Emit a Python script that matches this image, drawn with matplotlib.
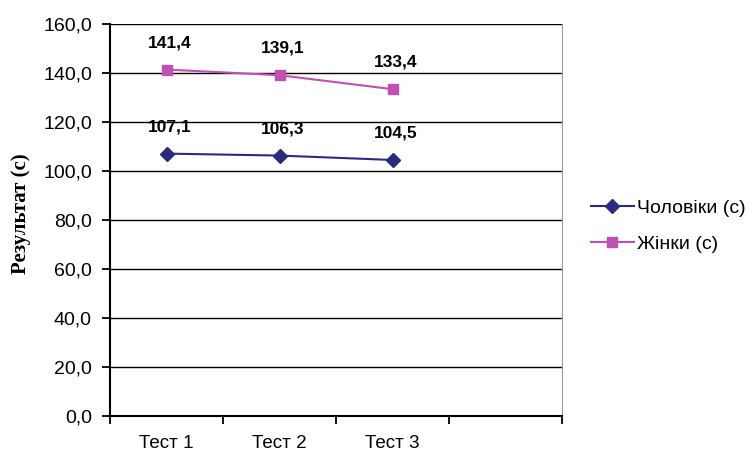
import numpy as np
import matplotlib
matplotlib.use("Agg")
from matplotlib import pyplot as plt
from matplotlib.ticker import FixedLocator, NullFormatter

tests = ["Тест 1", "Тест 2", "Тест 3"]
men = [107.1, 106.3, 104.5]
women = [141.4, 139.1, 133.4]

plt.rcParams['font.family'] = ['Liberation Sans', 'DejaVu Sans']

fig = plt.figure(figsize=(7.53, 4.53), dpi=100)
ax = fig.add_axes([110 / 753, 37 / 453, 452 / 753, 392 / 453])

x = np.arange(len(tests))
ax.plot(x, men, color="#2A2A7E", marker="D", markersize=7, linewidth=1.5,
        label="Чоловіки (с)")
ax.plot(x, women, color="#C050B2", marker="s", markersize=7, linewidth=1.5,
        label="Жінки (с)")

# value labels above the points
for series in (men, women):
    for xi, v in zip(x, series):
        ax.text(xi + 0.03, v + 11, f"{v:.1f}".replace(".", ","), ha="center",
                va="center", fontsize=12.5, fontweight="bold")

ax.set_xlim(-0.5, 3.5)
ax.set_ylim(0, 160)
yt = np.arange(0, 161, 20)
ax.set_yticks(yt)
ax.set_yticklabels([f"{t:.1f}".replace(".", ",") for t in yt], fontsize=14)
ax.yaxis.grid(True, color="black", linewidth=1)
ax.set_axisbelow(True)

# category ticks sit between the categories
ax.xaxis.set_major_locator(FixedLocator([-0.5, 0.5, 1.5, 2.5, 3.5]))
ax.xaxis.set_major_formatter(NullFormatter())
ax.xaxis.set_minor_locator(FixedLocator(x))
ax.set_xticklabels(tests, minor=True, fontsize=13.5)
ax.tick_params(axis="x", which="minor", length=0, pad=14)
ax.tick_params(axis="x", which="major", length=6, width=1.3, direction="out")
ax.tick_params(axis="y", length=6, width=1.3, direction="out", pad=7)

ax.spines["top"].set_visible(False)
ax.spines["right"].set_color("#999999")
ax.spines["left"].set_linewidth(1.5)
ax.spines["bottom"].set_linewidth(1.5)

ax.set_ylabel("Результат (с)", fontsize=15, fontweight="bold",
              family=["Liberation Serif", "DejaVu Serif"])
ax.yaxis.set_label_coords(-0.175, 0.515)

ax.legend(loc="center left", bbox_to_anchor=(1.025, 0.485), frameon=False,
          fontsize=14, handlelength=2.2, handletextpad=0.2, labelspacing=0.95)

fig.savefig("out.png", dpi=100)
